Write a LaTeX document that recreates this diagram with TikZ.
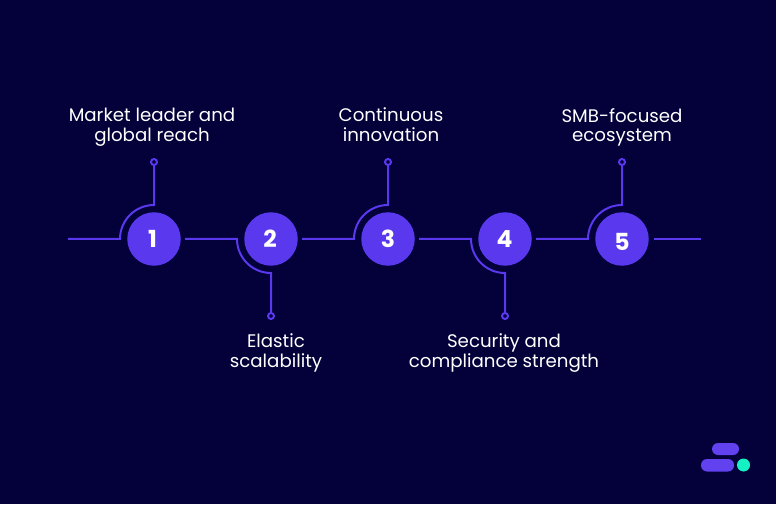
\documentclass[tikz,border=0pt]{standalone}
\usepackage{fontspec}
\setmainfont{Poppins}
\usepackage{xcolor}
\usetikzlibrary{positioning,calc}
\definecolor{bgnavy}{HTML}{03003A}
\definecolor{stepviolet}{HTML}{5A38EE}
\definecolor{logoteal}{HTML}{14F1C5}
\tikzset{
    numdisc/.style={circle, fill=stepviolet, minimum size=53.5pt, inner sep=0pt, text=white, text height=17pt, text depth=0pt, font=\fontsize{23.5}{23.5}\selectfont\bfseries},
    enddot/.style={circle, draw=stepviolet, line width=2pt, minimum size=6pt, inner sep=0pt},
    linkline/.style={draw=stepviolet, line width=2pt},
    caption/.style={text=white, align=center, font=\fontsize{18.2}{19}\selectfont, inner sep=0pt}
}
\begin{document}
\begin{tikzpicture}[x=1pt,y=1pt]
    \fill[bgnavy] (0,0) rectangle (776,504);
    % numbered discs
    \node[numdisc] (one) at (154,265) {\kern-3pt 1};
    \node[numdisc] (two) at (271,265) {\kern-2pt 2};
    \node[numdisc] (three) at (388,265) {3};
    \node[numdisc] (four) at (505,265) {\kern-1pt 4};
    \node[numdisc] (five) at (622,265) {\raisebox{-3pt}{5}};
    % small end dots
    \node[enddot] (dotone) at (154,342) {};
    \node[enddot] (dottwo) at (271,188) {};
    \node[enddot] (dotthree) at (388,342) {};
    \node[enddot] (dotfour) at (505,188) {};
    \node[enddot] (dotfive) at (622,342) {};
    % free ends of the lines
    \coordinate (startone) at (68,265);
    \coordinate (starttwo) at (185,265);
    \coordinate (startthree) at (302,265);
    \coordinate (startfour) at (419,265);
    \coordinate (startfive) at (536,265);
    \coordinate (endline) at (701,265);
    % lines with their arcs
    \draw[linkline] (startone) -- ++(52,0) arc[start angle=180, end angle=90, radius=34] -- (dotone.south);
    \draw[linkline] (starttwo) -- ++(52,0) arc[start angle=180, end angle=270, radius=34] -- (dottwo.north);
    \draw[linkline] (startthree) -- ++(52,0) arc[start angle=180, end angle=90, radius=34] -- (dotthree.south);
    \draw[linkline] (startfour) -- ++(52,0) arc[start angle=180, end angle=270, radius=34] -- (dotfour.north);
    \draw[linkline] (startfive) -- ++(52,0) arc[start angle=180, end angle=90, radius=34] -- (dotfive.south);
    \draw[linkline] (five.east) ++(5,0) -- (endline);
    % captions
    \node[caption] (capone) at (152,376.5) {\strut Market leader and\\\strut global reach};
    \node[caption] (captwo) at (276,150.5) {\strut Elastic\\\strut scalability};
    \node[caption] (capthree) at (391,376.5) {\strut Continuous\\\strut innovation};
    \node[caption] (capfour) at (504,150.5) {\strut Security and\\\strut compliance strength};
    \node[caption] (capfive) at (622,376.5) {\strut SMB-focused\\\strut ecosystem};
    % logo
    \fill[stepviolet!95!white, rounded corners=6pt] (712,49) rectangle (739,61);
    \fill[stepviolet!95!white, rounded corners=6pt] (701,32.5) rectangle (734,45);
    \fill[logoteal] (743.5,39) circle (6.5);
\end{tikzpicture}
\end{document}
